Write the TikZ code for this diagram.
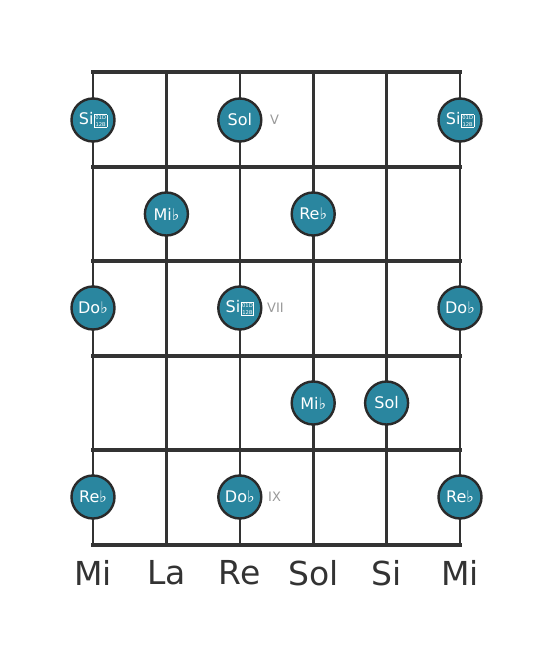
\documentclass[tikz,border=0pt]{standalone}
\usepackage{fontspec}
\setmainfont{DejaVu Sans}
% drawn stand-in for the double flat sign (no installed family has U+1D12B)
\newcommand{\dblflat}{\kern0.8pt\raisebox{-1.5pt}{\setlength\fboxsep{0.5pt}\setlength\fboxrule{0.6pt}\fbox{\fontsize{5.2}{7.2}\selectfont\shortstack{01D\\12B}}}}
\begin{document}
\begin{tikzpicture}[x=1pt,y=-1pt,
  fret/.style={draw=linec,line width=4pt},
  strg/.style={draw=linec,line width=2.6pt},
  notec/.style={circle,draw=ringc,line width=2.4pt,fill=notef,minimum size=43pt,inner sep=0pt,text=white,font=\fontsize{16}{16}\selectfont},
  posl/.style={anchor=west,text=gray!80,font=\fontsize{13}{13}\selectfont,inner sep=0pt},
  strl/.style={text=linec,font=\fontsize{33}{33}\selectfont,inner sep=0pt}]
\definecolor{linec}{HTML}{333333}
\definecolor{ringc}{HTML}{2A2A2A}
\definecolor{notef}{HTML}{2A869F}
\useasboundingbox (0,0) rectangle (553,656);
% strings
\foreach \x [count=\i] in {93,166.4,239.8,313.2,386.6,460} {
  \coordinate (st\i) at (\x,72);
  \coordinate (sb\i) at (\x,545);
  \draw[strg] (st\i) -- (sb\i);
}
% frets
\foreach \y [count=\j] in {72,166.6,261.2,355.8,450.4,545} {
  \coordinate (fl\j) at (93,\y);
  \coordinate (fr\j) at (460,\y);
  \draw[fret,line cap=rect] (fl\j) -- (fr\j);
}
% notes
\node[notec] (n1) at (93,120) {Si\dblflat};
\node[notec] (n2) at (239.8,120) {Sol};
\node[notec] (n3) at (460,120) {Si\dblflat};
\node[notec] (n4) at (166.4,214) {Mi♭};
\node[notec] (n5) at (313.2,214) {Re♭};
\node[notec] (n6) at (93,308) {Do♭};
\node[notec] (n7) at (239.8,308) {Si\dblflat};
\node[notec] (n8) at (460,308) {Do♭};
\node[notec] (n9) at (313.2,403) {Mi♭};
\node[notec] (n10) at (386.6,403) {Sol};
\node[notec] (n11) at (93,497) {Re♭};
\node[notec] (n12) at (239.8,497) {Do♭};
\node[notec] (n13) at (460,497) {Re♭};
% position labels
\node[posl] (p5) at (270,120) {V};
\node[posl] (p7) at (267,308) {VII};
\node[posl] (p9) at (268,497) {IX};
% string names
\node[strl] (s1) at (93,573) {Mi};
\node[strl] (s2) at (166.4,573) {La};
\node[strl] (s3) at (239.8,573) {Re};
\node[strl] (s4) at (313.2,573) {Sol};
\node[strl] (s5) at (386.6,573) {Si};
\node[strl] (s6) at (460,573) {Mi};
\end{tikzpicture}
\end{document}
